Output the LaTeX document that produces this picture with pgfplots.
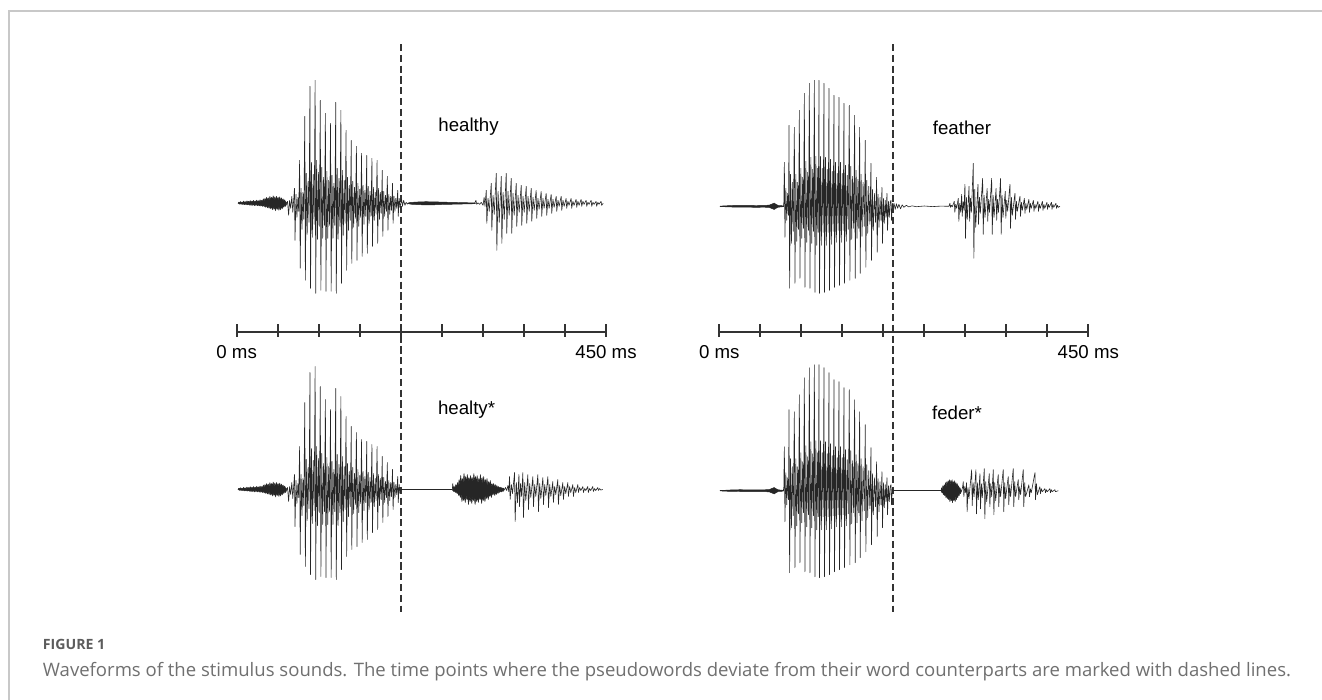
\documentclass[border=0pt]{standalone}
\usepackage{fontspec}
\setmainfont{Liberation Sans}
\newfontfamily\capfont{Open Sans}
\usepackage{pgfplots}
\usepackage{pgfplotstable}
\pgfplotsset{compat=1.18}
\definecolor{wave}{HTML}{262626}
\definecolor{tl}{HTML}{333333}
\definecolor{frame}{HTML}{C8C8C8}
\definecolor{capgray}{HTML}{707070}
\definecolor{figgray}{HTML}{5C5C5C}

% ---------- shared onsets (h / f noise) ----------
\pgfplotstableread[row sep=\\]{t a\\
1.6 0\\ 2.5 1.2\\ 3.5 0.5\\ 4.5 1.8\\ 5.5 0.6\\ 6.5 1.4\\ 7.5 0.5\\ 8.5 2.2\\ 9.5 0.8\\ 10.5 1.6\\ 11.5 0.7\\ 12.5 2.4\\ 13.5 1\\ 14.5 2\\ 15.5 0.8\\ 16.5 2.8\\ 17.5 1\\ 18.5 2.2\\ 19.5 1.2\\ 20.5 3\\ 21.5 1\\ 22.5 2.4\\ 23.5 1.3\\ 24.5 3.2\\ 25.5 1.2\\ 26.5 2.6\\ 27.5 1.5\\ 28.5 3.5\\ 29.5 1.6\\ 30.5 3\\ 31.5 2\\ 32.5 4.5\\ 33.5 2\\ 34.5 5\\ 35.5 2.5\\ 36.5 6\\ 37.5 3\\ 38.5 5.5\\ 39.5 2.5\\ 40.5 7\\ 41.5 3\\ 42.5 6\\ 43.5 3.5\\ 44.5 7.5\\ 45.5 3\\ 46.5 6.5\\ 47.5 3\\ 48.5 7\\ 49.5 3.5\\ 50.5 6\\ 51.5 3\\ 52.5 6.5\\ 53.5 2.5\\ 54.5 5.5\\ 55.5 2.5\\ 56.5 4.5\\ 57.5 2\\ 58.5 3.5\\ 59.5 1.5\\ 60.5 1\\ 61 0\\
60.5 -1.5\\ 59.5 -3\\ 58.5 -1.5\\ 57.5 -4\\ 56.5 -2.5\\ 55.5 -5.5\\ 54.5 -3\\ 53.5 -6.5\\ 52.5 -3\\ 51.5 -7\\ 50.5 -3.5\\ 49.5 -6\\ 48.5 -3\\ 47.5 -7.5\\ 46.5 -3.5\\ 45.5 -6\\ 44.5 -3\\ 43.5 -6.5\\ 42.5 -3\\ 41.5 -5.5\\ 40.5 -2.5\\ 39.5 -5\\ 38.5 -2.5\\ 37.5 -4.5\\ 36.5 -2\\ 35.5 -4\\ 34.5 -2\\ 33.5 -3.5\\ 32.5 -1.5\\ 31.5 -3\\ 30.5 -1.5\\ 29.5 -2.8\\ 28.5 -1.2\\ 27.5 -2.6\\ 26.5 -1.2\\ 25.5 -2.4\\ 24.5 -1\\ 23.5 -2.2\\ 22.5 -1\\ 21.5 -2.4\\ 20.5 -0.8\\ 19.5 -2\\ 18.5 -0.8\\ 17.5 -2.2\\ 16.5 -0.8\\ 15.5 -1.8\\ 14.5 -0.6\\ 13.5 -1.6\\ 12.5 -0.6\\ 11.5 -1.5\\ 10.5 -0.5\\ 9.5 -1.4\\ 8.5 -0.5\\ 7.5 -1.2\\ 6.5 -0.4\\ 5.5 -1\\ 4.5 -0.4\\ 3.5 -0.8\\ 2.5 -0.3\\
}\hN
\pgfplotstableread[row sep=\\]{t a\\
1 0.2\\ 8 0.5\\ 15 0.8\\ 25 1\\ 35 0.9\\ 45 0.8\\ 55 0.9\\ 61 1.2\\ 64 2.2\\ 67 3.2\\ 69 2\\ 72 0.8\\ 76 0.6\\ 78 0.3\\
78 -0.3\\ 76 -0.6\\ 72 -0.8\\ 69 -2\\ 67 -3.2\\ 64 -2.2\\ 61 -1.2\\ 55 -0.9\\ 45 -1\\ 35 -0.9\\ 25 -0.8\\ 15 -0.7\\ 8 -0.5\\ 1 -0.2\\
}\fN

% ---------- healthy / healty* : shared vowel up to 200 ms ----------
\pgfplotstableread[row sep=\\]{t a\\
61 0\\ 62 2\\ 63.3 -12\\ 64.5 3\\ 65.8 -5\\ 67.2 7\\ 68.4 -9\\ 69.6 5\\ 70.4 15\\ 71.1 -37\\ 72.3 9\\ 73.4 -14\\ 74.6 6\\ 75.6 -8\\
76.7 43\\ 77.4 -65\\ 78.5 15\\ 79.6 -26\\ 80.7 11\\ 81.8 -16\\
83.0 87\\ 83.7 -77\\ 84.8 30\\ 85.9 -31\\ 87.0 22\\ 88.1 -19\\
89.3 117\\ 90.0 -85\\ 91.1 41\\ 92.2 -34\\ 93.3 29\\ 94.4 -21\\
95.6 123\\ 96.3 -90\\ 97.4 43\\ 98.5 -36\\ 99.6 31\\ 100.7 -23\\
101.9 103\\ 102.6 -87\\ 103.7 36\\ 104.8 -35\\ 105.9 26\\ 107.0 -22\\
108.1 90\\ 108.8 -88\\ 109.9 32\\ 111.0 -35\\ 112.1 23\\ 113.2 -22\\
114.4 80\\ 115.1 -88\\ 116.2 28\\ 117.3 -35\\ 118.4 20\\ 119.5 -22\\
120.7 101\\ 121.4 -90\\ 122.5 35\\ 123.6 -36\\ 124.7 25\\ 125.8 -23\\
127.0 93\\ 127.7 -80\\ 128.8 33\\ 129.9 -32\\ 131.0 23\\ 132.1 -20\\
133.3 73\\ 134.0 -67\\ 135.1 26\\ 136.2 -27\\ 137.3 18\\ 138.4 -17\\
139.6 63\\ 140.3 -60\\ 141.4 22\\ 142.5 -24\\ 143.6 16\\ 144.7 -15\\
145.9 57\\ 146.6 -57\\ 147.7 20\\ 148.8 -23\\ 149.9 14\\ 151.0 -14\\
152.2 50\\ 152.9 -53\\ 154.0 18\\ 155.1 -21\\ 156.2 13\\ 157.3 -13\\
158.5 48\\ 159.2 -50\\ 160.3 17\\ 161.4 -20\\ 162.5 12\\ 163.6 -13\\
164.8 45\\ 165.5 -43\\ 166.6 16\\ 167.7 -17\\ 168.8 11\\ 169.9 -11\\
171.1 43\\ 171.8 -40\\ 172.9 15\\ 174.0 -16\\ 175.1 11\\ 176.2 -10\\
177.4 33\\ 178.1 -33\\ 179.2 12\\ 180.3 -13\\ 181.4 8\\ 182.5 -8\\
183.6 27\\ 184.3 -27\\ 185.4 9\\ 186.5 -11\\ 187.6 7\\ 188.7 -7\\
189.9 20\\ 190.6 -20\\ 191.7 7\\ 192.8 -8\\ 193.9 5\\ 195.0 -5\\
196.2 13\\ 196.9 -13\\ 198.0 5\\ 199.1 -4\\ 200 0\\
}\hA

% healthy tail
\pgfplotstableread[row sep=\\]{t a\\
200 0\\ 201 4\\ 202 -3\\ 203.5 3\\ 205 -2\\ 206.5 1\\ 208 -0.8\\ 210 0.4\\ 212 0\\ 290 0\\ 291.5 3\\ 292.5 -1\\ 294 0.5\\ 296 -1\\ 298 1\\ 300.2 -2\\ 301.5 6\\ 302.5 -3\\
304.1 13\\ 304.8 -20\\ 306.3 5\\ 307.7 -8\\
310.2 20\\ 310.9 -27\\ 312.4 8\\ 313.8 -11\\
316.3 30\\ 317.0 -47\\ 318.5 12\\ 319.9 -19\\
322.4 27\\ 323.1 -40\\ 324.6 11\\ 326.0 -16\\
328.4 30\\ 329.1 -30\\ 330.6 12\\ 332.0 -12\\
334.5 25\\ 335.2 -30\\ 336.7 10\\ 338.1 -12\\
340.6 20\\ 341.3 -23\\ 342.8 8\\ 344.2 -9\\
346.7 18\\ 347.4 -22\\ 348.9 7\\ 350.3 -9\\
352.8 17\\ 353.5 -20\\ 355.0 7\\ 356.4 -8\\
358.9 15\\ 359.6 -18\\ 361.1 6\\ 362.5 -7\\
364.9 13\\ 365.6 -15\\ 367.1 5\\ 368.5 -6\\
371.0 12\\ 371.7 -13\\ 373.2 5\\ 374.6 -5\\
377.1 10\\ 377.8 -12\\ 379.3 4\\ 380.7 -5\\
383.2 9\\ 383.9 -10\\ 385.4 4\\ 386.8 -4\\
389.3 7\\ 390.0 -8\\ 391.5 3\\ 392.9 -3\\
395.4 7\\ 396.1 -7\\ 397.6 3\\ 399.0 -3\\
401.4 5\\ 402.1 -5\\ 403.6 2\\ 405.0 -2\\
407.5 5\\ 408.2 -5\\ 409.7 2\\ 411.1 -2\\
413.6 4\\ 414.3 -4\\ 415.8 2\\ 417.2 -2\\
419.7 4\\ 420.4 -3\\ 421.9 2\\ 423.3 -1\\
425.8 3\\ 426.5 -3\\ 428.0 1\\ 429.4 -1\\
431.9 3\\ 432.6 -3\\ 434.1 1\\ 435.5 -1\\
437.9 2\\ 438.6 -3\\ 440.1 1\\ 441.5 -1\\
444.0 2\\ 444.7 -2\\ 446.6 0\\
}\hB
% healthy "th" frication (thin band)
\pgfplotstableread[row sep=\\]{t a\\
208 0\\ 212 0.9\\ 220 1.3\\ 230 1.6\\ 240 1.5\\ 250 1.2\\ 260 1\\ 270 0.8\\ 280 0.6\\ 290 0.4\\ 291 0\\
290 -0.4\\ 280 -0.6\\ 270 -0.8\\ 260 -1\\ 250 -1.2\\ 240 -1.5\\ 230 -1.6\\ 220 -1.3\\ 212 -0.9\\
}\hH

% healty* : t burst (polygon) and vowel
\pgfplotstableread[row sep=\\]{t a\\
262.7 0\\ 263.3 6\\ 264 1\\ 265 3\\ 266 1.5\\ 267 5\\ 268 2\\ 269 7\\ 270 3\\ 271 10\\ 272 5\\ 273 14\\ 274 6\\ 275 11\\ 276 7\\ 277 16\\ 278 8\\ 279 13\\ 280 7\\ 281 15\\ 282 8\\ 283 12\\ 284 7\\ 285 14\\ 286 8\\ 287 12\\ 288 7\\ 289 16\\ 290 8\\ 291 13\\ 292 7\\ 293 14\\ 294 6\\ 295 11\\ 296 7\\ 297 15\\ 298 6\\ 299 12\\ 300 6\\ 301 13\\ 302 5\\ 303 10\\ 304 5\\ 305 11\\ 306 4\\ 307 8\\ 308 4\\ 309 9\\ 310 3\\ 311 6\\ 312 3\\ 313 6\\ 314 2\\ 315 5\\ 316 2\\ 317 4\\ 318 1.5\\ 319 3\\ 320 1\\ 321 2.5\\ 322 1\\ 323 2\\ 324 0.8\\ 325 1.5\\ 326.4 0\\
325.5 -1\\ 324.5 -2\\ 323.5 -1\\ 322.5 -2.5\\ 321.5 -1.2\\ 320.5 -3\\ 319.5 -1.5\\ 318.5 -4\\ 317.5 -2\\ 316.5 -5\\ 315.5 -2.5\\ 314.5 -6\\ 313.5 -3\\ 312.5 -5\\ 311.5 -3.5\\ 310.5 -8\\ 309.5 -4\\ 308.5 -7\\ 307.5 -5\\ 306.5 -10\\ 305.5 -5\\ 304.5 -9\\ 303.5 -6\\ 302.5 -12\\ 301.5 -7\\ 300.5 -11\\ 299.5 -7\\ 298.5 -14\\ 297.5 -8\\ 296.5 -10\\ 295.5 -7\\ 294.5 -13\\ 293.5 -7\\ 292.5 -12\\ 291.5 -8\\ 290.5 -15\\ 289.5 -8\\ 288.5 -11\\ 287.5 -7\\ 286.5 -14\\ 285.5 -8\\ 284.5 -12\\ 283.5 -7\\ 282.5 -15\\ 281.5 -8\\ 280.5 -10\\ 279.5 -6\\ 278.5 -13\\ 277.5 -7\\ 276.5 -11\\ 275.5 -6\\ 274.5 -12\\ 273.5 -5\\ 272.5 -8\\ 271.5 -4\\ 270.5 -6\\ 269.5 -3\\ 268.5 -4\\ 267.5 -2\\ 266.5 -3\\ 265.5 -1.5\\ 264.5 -2\\ 263.5 -1\\ 262.9 -0.5\\
}\hT
\pgfplotstableread[row sep=\\]{t a\\
326.4 0\\ 327.5 2\\ 329 -1\\ 330.5 4\\ 331.5 -2\\
332.5 13\\ 333.2 -10\\ 334.7 5\\ 336.1 -4\\
338.6 17\\ 339.3 -32\\ 340.8 7\\ 342.2 -13\\
343.9 15\\ 344.6 -17\\ 345.9 6\\ 347.2 -7\\
348.7 17\\ 349.4 -28\\ 350.9 7\\ 352.3 -11\\
354.8 15\\ 355.5 -20\\ 357.0 6\\ 358.4 -8\\
360.9 13\\ 361.6 -17\\ 363.1 5\\ 364.5 -7\\
367.0 15\\ 367.7 -22\\ 369.2 6\\ 370.6 -9\\
373.1 12\\ 373.8 -15\\ 375.3 5\\ 376.7 -6\\
379.2 13\\ 379.9 -18\\ 381.4 5\\ 382.8 -7\\
385.2 8\\ 385.9 -13\\ 387.4 3\\ 388.8 -5\\
391.3 10\\ 392.0 -15\\ 393.5 4\\ 394.9 -6\\
397.4 7\\ 398.1 -10\\ 399.6 3\\ 401.0 -4\\
403.5 7\\ 404.2 -7\\ 405.7 3\\ 407.1 -3\\
409.6 5\\ 410.3 -7\\ 411.8 2\\ 413.2 -3\\
415.7 5\\ 416.4 -3\\ 417.9 2\\ 419.3 -1\\
421.8 3\\ 422.5 -3\\ 424.0 1\\ 425.4 -1\\
427.8 3\\ 428.5 -3\\ 430.0 1\\ 431.4 -1\\
433.9 3\\ 434.6 -2\\ 436.1 1\\ 437.5 -1\\
440.0 2\\ 440.7 -1\\ 442.2 1\\ 443.6 -0.5\\
446.1 0\\
}\hV

% ---------- feather / feder* : shared vowel up to 212 ms ----------
\pgfplotstableread[row sep=\\]{t a\\
78 0\\ 78.6 3\\
79.3 44\\ 80.0 -31\\ 81.1 18\\ 82.2 -14\\ 83.3 13\\ 84.3 -9\\
85.0 81\\ 85.7 -82\\ 86.8 32\\ 87.9 -37\\ 89.0 24\\ 90.1 -25\\
91.5 79\\ 92.2 -77\\ 93.3 32\\ 94.4 -35\\ 95.5 24\\ 96.5 -23\\
97.6 96\\ 98.3 -72\\ 99.4 38\\ 100.5 -32\\ 101.6 29\\ 102.6 -22\\
103.7 113\\ 104.4 -81\\ 105.5 45\\ 106.6 -36\\ 107.7 34\\ 108.7 -24\\
109.8 123\\ 110.5 -82\\ 111.6 49\\ 112.7 -37\\ 113.8 37\\ 114.8 -25\\
115.9 126\\ 116.6 -86\\ 117.7 50\\ 118.8 -39\\ 119.9 38\\ 120.6 -26\\
121.5 126\\ 122.2 -87\\ 123.3 50\\ 124.4 -39\\ 125.5 38\\ 126.6 -26\\
127.6 123\\ 128.3 -86\\ 129.4 49\\ 130.5 -39\\ 131.6 37\\ 132.7 -26\\
133.7 118\\ 134.4 -84\\ 135.5 47\\ 136.6 -38\\ 137.7 35\\ 138.8 -25\\
139.8 111\\ 140.5 -81\\ 141.6 44\\ 142.7 -36\\ 143.8 33\\ 144.9 -24\\
145.9 109\\ 146.6 -79\\ 147.7 44\\ 148.8 -36\\ 149.9 33\\ 151.0 -24\\
152.0 103\\ 152.7 -77\\ 153.8 41\\ 154.9 -35\\ 156.0 31\\ 157.2 -23\\
158.5 101\\ 159.2 -74\\ 160.3 40\\ 161.4 -33\\ 162.5 30\\ 163.8 -22\\
165.0 91\\ 165.7 -72\\ 166.8 36\\ 167.9 -32\\ 169.0 27\\ 170.0 -22\\
171.1 79\\ 171.8 -67\\ 172.9 32\\ 174.0 -30\\ 175.3 24\\ 176.8 -20\\
178.0 66\\ 178.7 -61\\ 179.8 26\\ 180.9 -27\\ 182.2 20\\ 183.6 -18\\
184.9 43\\ 185.6 -54\\ 186.7 17\\ 187.8 -24\\ 189.1 13\\ 190.5 -16\\
191.8 29\\ 192.5 -46\\ 193.6 12\\ 194.7 -21\\ 196.0 9\\ 197.2 -14\\
198.3 19\\ 199.0 -37\\ 200.1 8\\ 201.2 -17\\ 202.3 6\\ 203.3 -11\\
204.4 13\\ 205.1 -24\\ 206.2 5\\ 207.3 -11\\ 208.3 4\\
209.3 6\\ 210.0 -14\\ 211 3\\ 212 0\\
}\fA

% feather tail
\pgfplotstableread[row sep=\\]{t a\\
212 0\\ 213 3\\ 214.5 -3\\ 216 2.5\\ 217.5 -2\\ 219 2\\ 221 -2.5\\ 223 1.5\\ 225 -1\\ 228 1\\ 231 -0.6\\ 235 0.5\\ 240 -0.4\\ 250 0.3\\ 260 -0.3\\ 270 0.2\\ 280 0\\
281.2 3\\ 281.9 -1\\ 283.0 1\\ 284.1 -0.5\\
286.5 5\\ 287.2 -6\\ 288.3 2\\ 289.4 -2\\
291.4 8\\ 292.1 -15\\ 293.2 3\\ 294.3 -6\\
295.5 12\\ 296.2 -10\\ 297.3 5\\ 298.4 -4\\
299.5 22\\ 300.2 -32\\ 301.3 9\\ 302.4 -13\\
304.5 20\\ 305.2 -15\\ 306.3 8\\ 307.4 -6\\
309.7 43\\ 310.4 -52\\ 311.5 17\\ 312.6 -21\\
315.4 22\\ 316.1 -18\\ 317.2 9\\ 318.3 -7\\
321.1 28\\ 321.8 -28\\ 322.9 11\\ 324.0 -11\\
326.6 18\\ 327.3 -15\\ 328.4 7\\ 329.5 -6\\
332.1 28\\ 332.8 -28\\ 333.9 11\\ 335.0 -11\\
337.5 18\\ 338.2 -14\\ 339.3 7\\ 340.4 -6\\
343.0 28\\ 343.7 -28\\ 344.8 11\\ 345.9 -11\\
348.7 15\\ 349.4 -12\\ 350.5 6\\ 351.6 -5\\
354.4 22\\ 355.1 -22\\ 356.2 9\\ 357.3 -9\\
360.5 13\\ 361.2 -13\\ 362.3 5\\ 363.4 -5\\
366.6 10\\ 367.3 -10\\ 368.4 4\\ 369.5 -4\\
372.0 8\\ 372.7 -7\\ 373.8 3\\ 374.9 -3\\
377.5 7\\ 378.2 -6\\ 379.3 3\\ 380.4 -2\\
383.0 6\\ 383.7 -5\\ 384.8 2\\ 385.9 -2\\
388.5 5\\ 389.2 -5\\ 390.3 2\\ 391.4 -2\\
394.0 5\\ 394.7 -4\\ 395.8 2\\ 396.9 -2\\
399.5 4\\ 400.2 -3\\ 401.3 2\\ 402.4 -1\\
405.0 4\\ 405.7 -3\\ 406.8 2\\ 407.9 -1\\
410.5 3\\ 411.2 -2\\ 412.3 1\\ 413.4 -1\\
415.4 0\\
}\fB

% feder* : d burst (polygon) and vowel
\pgfplotstableread[row sep=\\]{t a\\
270.3 0\\ 271 3\\ 271.8 1\\ 272.6 5\\ 273.4 2\\ 274.2 6\\ 275 3\\ 275.8 8\\ 276.6 4\\ 277.4 9\\ 278.2 5\\ 279 10\\ 279.8 6\\ 280.6 11\\ 281.4 6\\ 282.2 10\\ 283 7\\ 283.8 11\\ 284.6 6\\ 285.4 9\\ 286.2 6\\ 287 10\\ 287.8 5\\ 288.6 8\\ 289.4 4\\ 290.2 7\\ 291 3\\ 291.8 5\\ 292.6 2\\ 293.4 3\\ 294.2 1\\ 295.5 0\\
294.8 -1.5\\ 294 -3\\ 293.2 -2\\ 292.4 -5\\ 291.6 -3\\ 290.8 -7\\ 290 -4\\ 289.2 -9\\ 288.4 -5\\ 287.6 -11\\ 286.8 -6\\ 286 -10\\ 285.2 -6\\ 284.4 -12\\ 283.6 -7\\ 282.8 -10\\ 282 -6\\ 281.2 -11\\ 280.4 -6\\ 279.6 -9\\ 278.8 -5\\ 278 -8\\ 277.2 -4\\ 276.4 -7\\ 275.6 -3\\ 274.8 -5\\ 274 -2\\ 273.2 -4\\ 272.4 -1.5\\ 271.6 -2\\ 270.8 -1\\
}\fD
\pgfplotstableread[row sep=\\]{t a\\
295.5 0\\ 296.5 3\\
297.5 9\\ 298.2 -6\\ 299.3 4\\ 300.4 -2\\
301.5 8\\ 302.2 -21\\ 303.3 3\\ 304.4 -8\\
307.7 21\\ 308.4 -15\\ 309.5 8\\ 310.6 -6\\
312.9 21\\ 313.6 -23\\ 314.7 8\\ 315.8 -9\\
317.8 17\\ 318.5 -18\\ 319.6 7\\ 320.7 -7\\
323.1 22\\ 323.8 -28\\ 324.9 9\\ 326.0 -11\\
329.2 17\\ 329.9 -16\\ 331.0 7\\ 332.1 -6\\
334.1 21\\ 334.8 -24\\ 335.9 8\\ 337.0 -10\\
340.1 16\\ 340.8 -16\\ 341.9 6\\ 343.0 -6\\
346.2 21\\ 346.9 -21\\ 348.0 8\\ 349.1 -8\\
352.3 14\\ 353.0 -14\\ 354.1 6\\ 355.2 -6\\
358.4 22\\ 359.1 -16\\ 360.2 9\\ 361.3 -6\\
364.5 11\\ 365.2 -9\\ 366.3 4\\ 367.4 -4\\
370.6 21\\ 371.3 -16\\ 372.4 8\\ 373.5 -6\\
377.5 6\\ 378.2 -6\\ 379.3 2\\ 380.4 -2\\
384.9 18\\ 385.6 -9\\ 386.7 7\\ 387.8 -4\\
390.9 4\\ 391.6 -3\\ 392.7 2\\ 393.8 -1\\
397.0 2\\ 397.7 -2\\ 398.8 1\\ 399.9 -1\\
403.1 2\\ 403.8 -2\\ 404.9 1\\ 406.0 -1\\
409.2 1\\ 409.9 -1\\ 413.3 0\\
}\fV

\pgfplotsset{
  panel/.style={scale only axis, height=429pt, xmin=0, xmax=450, ymin=40, ymax=612,
    y dir=reverse, axis lines=none, clip=false, anchor=north west},
  wv/.style={color=wave, line width=0.45pt, line join=round, mark=none},
  burst/.style={fill=wave, draw=wave, line width=0.35pt, line join=round, mark=none},
  dashln/.style={color=tl, line width=1.05pt, dash pattern=on 5.4pt off 2.7pt, mark=none},
  tline/.style={color=tl, line width=1.5pt, mark=none},
  tticks/.style={only marks, mark=|, mark size=5pt, mark options={color=tl, line width=1.4pt}},
}
\newcommand\lbl{\fontsize{14}{16}\selectfont}

\begin{document}
\begin{tikzpicture}
\path[use as bounding box] (0pt,0pt) rectangle (991.5pt,-525pt);
\fill[white] (0pt,0pt) rectangle (991.5pt,-525pt);
\draw[color=frame, line width=1.5pt] (7pt,-525pt) -- (7pt,-8.25pt) -- (991.5pt,-8.25pt);

% ---------------- left panel ----------------
\begin{axis}[panel, at={(177.5pt,-30pt)}, width=277pt]
\addplot[dashln] coordinates {(200,44) (200,612)};
% healthy
\addplot[burst] table[x=t, y expr={203.3-(\thisrow{a})}] {\hN} -- cycle;
\addplot[wv] table[x=t, y expr={203.3-(\thisrow{a})}] {\hA};
\addplot[burst] table[x=t, y expr={203.3-(\thisrow{a})}] {\hH} -- cycle;
\addplot[wv] table[x=t, y expr={203.3-(\thisrow{a})}] {\hB};
% healty*
\addplot[burst] table[x=t, y expr={489.5-(\thisrow{a})}] {\hN} -- cycle;
\addplot[wv] table[x=t, y expr={489.5-(\thisrow{a})}] {\hA};
\addplot[wv] coordinates {(200,489.5) (262.7,489.5)};
\addplot[burst] table[x=t, y expr={489.5-(\thisrow{a})}] {\hT} -- cycle;
\addplot[wv] table[x=t, y expr={489.5-(\thisrow{a})}] {\hV};
% time line
\addplot[tline] coordinates {(0,331.7) (450,331.7)};
\addplot[tticks] coordinates {(0,330.7) (50,330.7) (100,330.7) (150,330.7) (200,330.7) (250,330.7) (300,330.7) (350,330.7) (400,330.7) (450,330.7)};
\node[font=\lbl] at (axis cs:0,352) {0 ms};
\node[font=\lbl] at (axis cs:450,352) {450 ms};
\node[font=\lbl] at (axis cs:282.5,127) {healthy};
\node[font=\lbl] at (axis cs:280.1,410) {healty*};
\end{axis}

% ---------------- right panel ----------------
\begin{axis}[panel, at={(539.5pt,-30pt)}, width=276.75pt]
\addplot[dashln] coordinates {(212,44) (212,612)};
% feather
\addplot[burst] table[x=t, y expr={206.3-(\thisrow{a})}] {\fN} -- cycle;
\addplot[wv] coordinates {(0.5,206.3) (79,206.3)};
\addplot[wv] table[x=t, y expr={206.3-(\thisrow{a})}] {\fA};
\addplot[wv] table[x=t, y expr={206.3-(\thisrow{a})}] {\fB};
% feder*
\addplot[burst] table[x=t, y expr={490.7-(\thisrow{a})}] {\fN} -- cycle;
\addplot[wv] coordinates {(0.5,490.7) (79,490.7)};
\addplot[wv] table[x=t, y expr={490.7-(\thisrow{a})}] {\fA};
\addplot[wv] coordinates {(212,490.7) (270.3,490.7)};
\addplot[burst] table[x=t, y expr={490.7-(\thisrow{a})}] {\fD} -- cycle;
\addplot[wv] table[x=t, y expr={490.7-(\thisrow{a})}] {\fV};
% time line
\addplot[tline] coordinates {(0,331.7) (450,331.7)};
\addplot[tticks] coordinates {(0,330.7) (50,330.7) (100,330.7) (150,330.7) (200,330.7) (250,330.7) (300,330.7) (350,330.7) (400,330.7) (450,330.7)};
\node[font=\lbl] at (axis cs:0,352) {0 ms};
\node[font=\lbl] at (axis cs:450,352) {450 ms};
\node[font=\lbl] at (axis cs:295.9,128) {feather};
\node[font=\lbl] at (axis cs:289.8,413) {feder*};
\end{axis}

% ---------------- caption ----------------
\node[anchor=base west, inner sep=0pt, text=figgray, font=\capfont\bfseries\fontsize{10.6}{12}\selectfont] at (32pt,-486.75pt) {FIGURE 1};
\node[anchor=base west, inner sep=0pt, text=capgray, font=\capfont\fontsize{13.9}{16}\selectfont] at (32pt,-507.5pt) {Waveforms of the stimulus sounds. The time points where the pseudowords deviate from their word counterparts are marked with dashed lines.};
\end{tikzpicture}
\end{document}
